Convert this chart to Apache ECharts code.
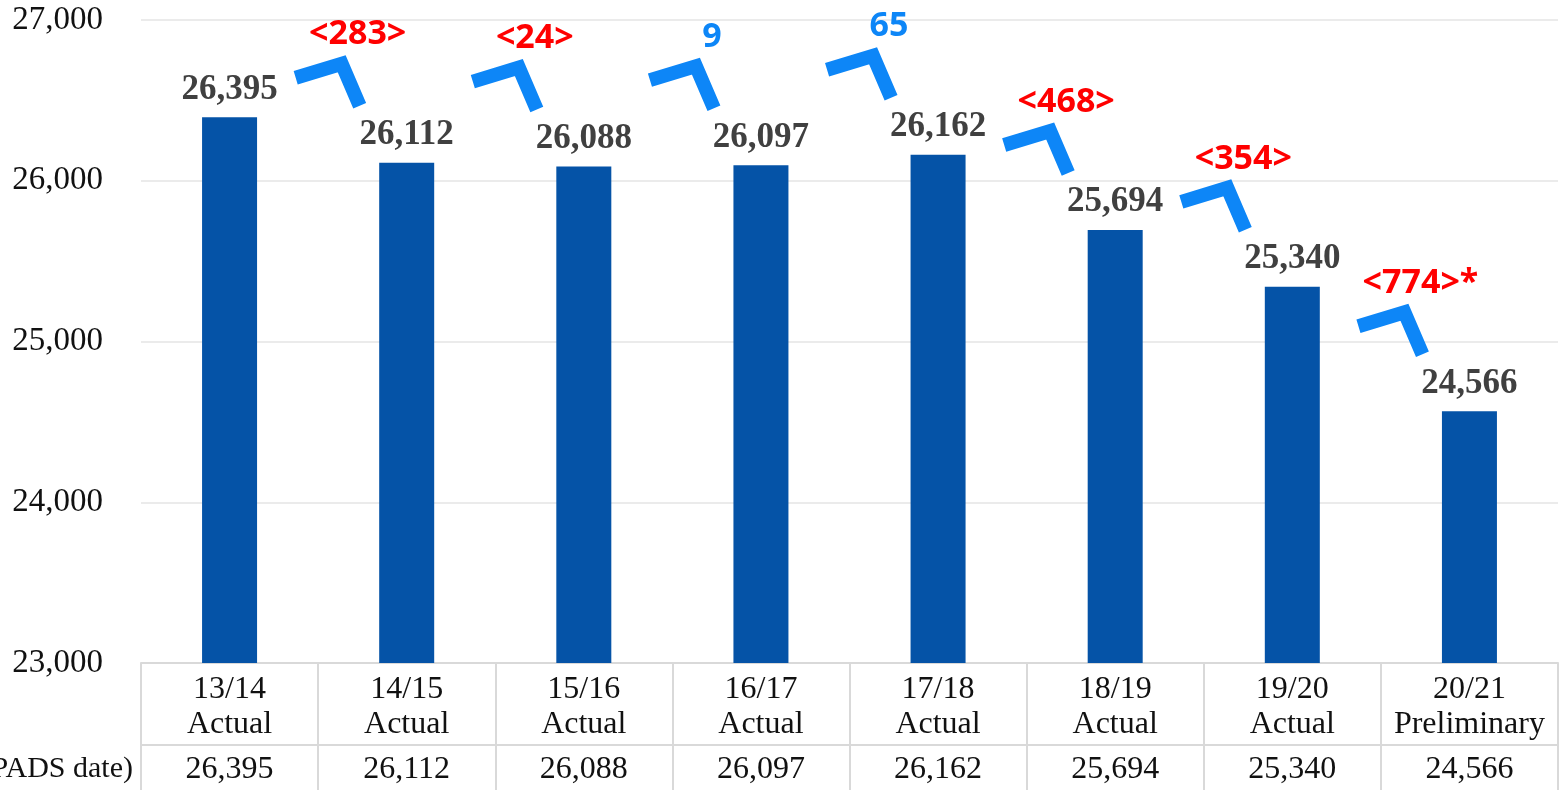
<!DOCTYPE html>
<html>
<head>
<meta charset="utf-8">
<script src="https://cdn.jsdelivr.net/npm/echarts@6/dist/echarts.min.js"></script>
<style>
  html, body { margin: 0; padding: 0; background: #fff; }
  #chart { width: 1562px; height: 790px; }
</style>
</head>
<body>
<div id="chart"></div>
<script>
// data
const years = ['13/14', '14/15', '15/16', '16/17', '17/18', '18/19', '19/20', '20/21'];
const stages = ['Actual', 'Actual', 'Actual', 'Actual', 'Actual', 'Actual', 'Actual', 'Preliminary'];
const enrollment = [26395, 26112, 26088, 26097, 26162, 25694, 25340, 24566];
const changes = [-283, -24, 9, 65, -468, -354, -774];
const changeNotes = ['', '', '', '', '', '', '*'];
const yTicks = { min: 23000, max: 27000, step: 1000 };

const fmt = v => Number(v).toLocaleString('en-US');
const serif = 'Liberation Serif';
const blue = '#0d86f7';

const categories = years.map((y, i) => y + '\n' + stages[i]);
const arrowData = changes.map((c, i) => [i, enrollment[i], enrollment[i + 1], c]);

let chart = echarts.init(document.getElementById('chart'), null, { renderer: 'canvas' });

let option = {
    animation: false,
    grid: { left: 141, right: 4, top: 20, bottom: 127 },
    xAxis: [
        {
            type: 'category',
            data: categories,
            position: 'bottom',
            axisLine: { show: true, lineStyle: { color: '#d9d9d9', width: 2 } },
            axisTick: { show: true, interval: 0, length: 130, lineStyle: { color: '#d9d9d9', width: 2 } },
            axisLabel: {
                interval: 0, color: '#111', fontFamily: serif, fontSize: 32, lineHeight: 35, margin: 9
            }
        },
        {
            type: 'category',
            data: enrollment.map(fmt),
            position: 'bottom',
            offset: 82,
            axisLine: { show: true, lineStyle: { color: '#d9d9d9', width: 2 } },
            axisTick: { show: false },
            axisLabel: { interval: 0, color: '#111', fontFamily: serif, fontSize: 32, margin: 9 }
        }
    ],
    yAxis: {
        type: 'value',
        min: yTicks.min,
        max: yTicks.max,
        interval: yTicks.step,
        axisLine: { show: false },
        axisTick: { show: false },
        splitLine: { lineStyle: { color: '#ebebeb', width: 2 } },
        axisLabel: {
            color: '#111', fontFamily: serif, fontSize: 33, margin: 38,
            formatter: v => fmt(v)
        }
    },
    graphic: [
        {
            type: 'text',
            x: 133, y: 769,
            style: {
                text: '(PADS date)', fill: '#111', font: '30px "Liberation Serif"',
                align: 'right', verticalAlign: 'middle'
            }
        }
    ],
    series: [
        {
            type: 'bar',
            data: enrollment,
            barWidth: 55,
            itemStyle: { color: '#0553a7' },
            label: {
                show: true, position: 'top', distance: 10,
                color: '#404040', fontFamily: serif, fontWeight: 'bold', fontSize: 35,
                formatter: p => fmt(p.value)
            }
        },
        {
            type: 'custom',
            data: arrowData,
            z: 5,
            renderItem: (params, api) => {
                const i = api.value(0);
                const to = api.coord([i + 1, api.value(2)]);
                const c = api.value(3);
                const right = [to[0] - 47, to[1] - 57];
                const apex = [right[0] - 18, right[1] - 42];
                const left = [apex[0] - 46, apex[1] + 14];
                const txt = (c < 0 ? '<' + Math.abs(c) + '>' : String(c)) + changeNotes[i];
                return {
                    type: 'group',
                    children: [
                        {
                            type: 'polyline',
                            shape: { points: [left, apex, right] },
                            style: { stroke: blue, lineWidth: 14, fill: null, lineJoin: 'miter', lineCap: 'butt' }
                        },
                        {
                            type: 'text',
                            x: apex[0] + 16, y: apex[1] - 29,
                            style: {
                                text: txt, fill: c < 0 ? '#ff0000' : blue,
                                font: 'bold 34px "Noto Sans"', align: 'center', verticalAlign: 'middle'
                            }
                        }
                    ]
                };
            }
        }
    ]
};

option && chart.setOption(option);
</script>
</body>
</html>
